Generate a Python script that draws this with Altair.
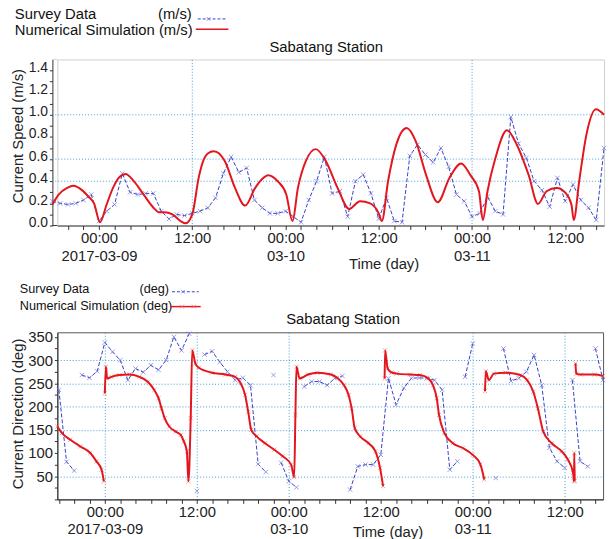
import altair as alt
import pandas as pd

FONT = "Liberation Sans"
RED = "#e3161d"
RED_MARK = "#f07a7a"
BLUE = "#3440c8"
BLUE_MARK = "#6f74d8"
GRID = "#3f9fd3"
DARK = "#333333"

# ---------------- data (hours after 2017-03-09 00:00) ----------------
speed_obs_hours = [-6, -5, -4, -3, -2, -1, 0, 1, 2, 3, 4, 5, 6, 7, 8, 9, 10, 11, 12, 13, 14,
                   15, 16, 17, 18, 19, 20, 21, 22, 23, 24, 25, 26, 27, 28, 29, 30, 31, 32, 33,
                   34, 35, 36, 37, 38, 39, 40, 41, 42, 43, 44, 45, 46, 47, 48, 49, 50, 51, 52,
                   53, 54, 55, 56, 57, 58, 59, 60, 61, 62, 63, 64, 65]
speed_obs = [0.22, 0.20, 0.19, 0.20, 0.23, 0.28, 0.04, 0.13, 0.19, 0.47, 0.30, 0.28, 0.29,
             0.29, 0.13, 0.06, 0.10, 0.09, 0.11, 0.13, 0.16, 0.25, 0.47, 0.62, 0.48, 0.52,
             0.23, 0.16, 0.11, 0.11, 0.13, 0.08, 0.03, 0.23, 0.40, 0.62, 0.29, 0.31, 0.08,
             0.40, 0.46, 0.29, 0.06, 0.25, 0.04, 0.03, 0.63, 0.73, 0.64, 0.57, 0.70, 0.53,
             0.28, 0.22, 0.08, 0.11, 0.26, 0.13, 0.10, 0.98, 0.74, 0.61, 0.40, 0.32, 0.17,
             0.43, 0.22, 0.37, 0.23, 0.16, 0.05, 0.70]

speed_sim_hours = [-6.0, -5.2, -4.1, -3.3, -2.2, -1.35, -0.64, 0.13, 0.98, 1.8, 2.67, 3.43,
                   4.37, 5.64, 6.9, 7.76, 8.4, 9.45, 10.5, 11.15, 12.0, 12.85, 13.5, 14.0,
                   14.76, 16.2, 17.5, 18.8, 20.1, 21.0, 21.76, 23.0, 24.1, 24.9, 25.6, 26.6,
                   27.9, 29.2, 30.7, 32.2, 33.6, 34.9, 36.0, 36.4, 37.2, 38.3, 39.6, 40.8,
                   42.1, 43.6, 45.1, 46.6, 47.8, 48.9, 49.4, 50.0, 51.0, 52.5, 53.8, 55.3,
                   56.5, 57.6, 58.9, 60.1, 60.8, 61.1, 61.8, 62.7, 63.95, 65.0]
speed_sim = [0.19, 0.28, 0.34, 0.36, 0.32, 0.26, 0.20, 0.03, 0.19, 0.34, 0.44, 0.465, 0.41,
             0.29, 0.17, 0.12, 0.12, 0.10, 0.04, 0.02, 0.10, 0.44, 0.60, 0.65, 0.67, 0.58,
             0.34, 0.18, 0.34, 0.42, 0.455, 0.40, 0.28, 0.04, 0.34, 0.58, 0.69, 0.58, 0.34,
             0.15, 0.22, 0.20, 0.11, 0.04, 0.40, 0.74, 0.88, 0.755, 0.455, 0.21, 0.43, 0.56,
             0.455, 0.31, 0.05, 0.31, 0.605, 0.86, 0.725, 0.455, 0.195, 0.31, 0.34, 0.29,
             0.19, 0.05, 0.40, 0.81, 1.05, 1.00]

dir_obs_hours = speed_obs_hours
dir_obs = [236, 81, 62, 268, 262, 276, 338, 318, 300, 257, 282, 274, 289, 279, 300, 350,
           321, 357, 18, 312, 319, 296, 275, 257, 262, 246, 76, 59, 268, 79, 39, 26, 243,
           254, 254, 246, 261, 266, 21, 71, 75, 75, 96, 261, 204, 240, 261, 262, 261, 257,
           236, 64, 82, 264, 336, None, None, 46, 325, 255, 261, 275, 311, 246, 111, 82, 68,
           257, 82, 71, 325, 257]

dir_sim_hours = [-6.2, -5.6, -4.5, -3.2, -1.9, -1.1, -0.43, -0.13,
                 0.0, 0.13, 0.3, 0.86, 1.9, 3.2, 4.5, 5.6, 6.45, 7.0, 7.4, 7.8, 8.4, 9.25,
                 9.9, 10.3, 10.7, 10.9, 11.2, 11.4, 11.8, 12.26, 13.97, 15.7, 17.0, 17.6,
                 18.3, 18.7, 19.1, 19.8, 20.9, 22.1, 23.2, 24.3, 24.7, 24.86, 25.0, 25.4,
                 26.5, 27.7, 29.5, 30.3, 31.2, 31.8, 32.2, 32.6, 33.3, 34.4, 35.3, 35.9, 36.3,
                 36.5, 36.56, 36.9, 37.4, 38.06, 39.8, 41.1, 42.2, 42.8, 43.3, 43.6, 44.3,
                 45.4, 46.7, 48.0, 49.0, 49.5,
                 49.6, 49.7, 50.1, 50.75, 52.3, 54.2, 55.1, 55.9, 56.5, 57.2, 58.3, 59.6,
                 60.4, 61.1, 61.2, 61.25, 61.3,
                 61.4, 61.5, 62.1, 63.9, 65.0]
dir_sim = [157, 143, 128.6, 114, 100, 82, 64, 39,
           228.6, 285.7, 260.7, 264, 268, 269, 264, 253.6, 235.7, 218, 196, 175, 157, 146,
           139, 125, 103.6, 39, 175, 321, 293, 283.6, 273, 269, 264, 253.6,
           225, 189, 150, 135.7, 121, 107, 93, 75, 48, 182, 285.7, 260.7,
           269, 273, 269, 262, 246, 225, 196, 153.6, 135.7, 121, 103.6, 68, 28.6,
           260.7, 321, 282, 273.6, 271, 269, 268, 260.7, 246, 218, 182, 143,
           121, 110.7, 96, 75, 43,
           233.6, 276, 257, 271, 273, 268, 257, 232, 196, 146, 121, 103.6,
           86, 57, 39, 100, 40,
           293, 271, 269, 269, 266]

# axis ticks / labels
x_tick_values = [-6, -4, -2, 0, 2, 4, 6, 8, 10, 12, 14, 16, 18, 20, 22, 24, 26, 28, 30, 32,
                 34, 36, 38, 40, 42, 44, 46, 48, 50, 52, 54, 56, 58, 60, 62, 64]
x_label_hours = [0, 12, 24, 36, 48, 60]
x_label_lines = [["00:00", "2017-03-09"], ["12:00"], ["00:00", "03-10"], ["12:00"],
                 ["00:00", "03-11"], ["12:00"]]
speed_tick_values = [0.0, 0.1, 0.2, 0.3, 0.4, 0.5, 0.6, 0.7, 0.8, 0.9, 1.0, 1.1, 1.2, 1.3, 1.4]
dir_tick_values = [0, 25, 50, 75, 100, 125, 150, 175, 200, 225, 250, 275, 300, 325, 350]
speed_grid_values = [0.4, 0.6, 1.0]
dir_grid_values = [50, 150, 200, 250, 300]
speed_vgrid_hours = [12, 48]
dir_vgrid_hours = [0, 12, 24, 48, 60]

station = "Sabatang Station"
obs_name = "Survey Data"
sim_name = "Numerical Simulation"

XPATH = "M-1,-1L1,1M-1,1L1,-1"

# plot geometry (px)
TOP_W, TOP_H, TOP_AXIS_SHIFT = 553, 168, 5
BOT_W, BOT_H = 552, 169


def segments(hours, values):
    rows = []
    seg = 0
    prev = None
    for h, v in zip(hours, values):
        if v is None:
            prev = None
            seg += 1
            continue
        if prev is not None and abs(v - prev) > 180:
            seg += 1
        rows.append({"hour": h, "value": v, "seg": seg})
        prev = v
    return pd.DataFrame(rows)


def x_label_expr():
    parts = []
    for h, lines in zip(x_label_hours, x_label_lines):
        arr = "[" + ",".join("'%s'" % s for s in lines) + "]"
        parts.append("datum.value == %s ? %s : " % (h, arr))
    return "".join(parts) + "''"


def grid_test(vals):
    return " || ".join("abs(datum.value - %s) < 0.001" % v for v in vals)


def x_enc(domain, vgrid, title_x, title_y):
    return alt.X(
        "hour:Q",
        scale=alt.Scale(domain=domain, nice=False, zero=False),
        axis=alt.Axis(
            values=x_tick_values, labelExpr=x_label_expr(), title="Time (day)",
            titleX=title_x, titleY=title_y, titleFontSize=15, titleFontWeight="normal",
            titleColor="#222", titleBaseline="top",
            labelFontSize=15, labelLineHeight=18, labelColor="#222", labelPadding=1,
            labelOverlap=False, labelFlush=False, tickSize=4, tickColor=DARK,
            domainColor=DARK, grid=True, gridColor=GRID, gridDash=[1, 2],
            gridOpacity={"condition": {"test": grid_test(vgrid), "value": 1}, "value": 0},
        ),
    )


def legend_layers(unit, size, x_text, x_unit_right, y1, y2, sym_x1, sym_x2, sym_y1, sym_y2,
                  sim_marks):
    one = pd.DataFrame({"k": [0]})
    layers = []
    for txt, xx, yy, al in [(obs_name, x_text, y1, "left"), (unit, x_unit_right, y1, "right"),
                            (sim_name + " " + unit, x_text, y2, "left")]:
        layers.append(
            alt.Chart(pd.DataFrame({"t": [txt]})).mark_text(
                align=al, baseline="alphabetic", fontSize=size, color="#111")
            .encode(x=alt.value(xx), y=alt.value(yy), text="t:N"))
    layers.append(alt.Chart(one).mark_rule(color=BLUE, strokeDash=[3, 2], strokeWidth=1)
                  .encode(x=alt.value(sym_x1), x2=alt.value(sym_x2), y=alt.value(sym_y1)))
    layers.append(alt.Chart(one).mark_point(shape=XPATH, filled=False, size=14, color=BLUE_MARK,
                                            strokeWidth=1)
                  .encode(x=alt.value(sym_x1 + 11), y=alt.value(sym_y1)))
    layers.append(alt.Chart(one).mark_rule(color=RED, strokeWidth=1.5)
                  .encode(x=alt.value(sym_x1 - 2), x2=alt.value(sym_x2 + 2), y=alt.value(sym_y2)))
    if sim_marks:
        for dx in (10, 22):
            layers.append(alt.Chart(one).mark_point(shape=XPATH, filled=False, size=16,
                                                    color=RED_MARK, strokeWidth=1)
                          .encode(x=alt.value(sym_x1 + dx), y=alt.value(sym_y2)))
    return layers


def title_layer(cx, by):
    return (alt.Chart(pd.DataFrame({"t": [station]}))
            .mark_text(align="center", baseline="alphabetic", fontSize=15, color="#111")
            .encode(x=alt.value(cx), y=alt.value(by), text="t:N"))


# ---------------- top panel: speed ----------------
sp_obs = pd.DataFrame({"hour": speed_obs_hours, "value": speed_obs})
sp_sim = pd.DataFrame({"hour": speed_sim_hours, "value": speed_sim})
sp_grid = pd.DataFrame({"value": speed_grid_values})
one_row = pd.DataFrame({"k": [0]})

xs = x_enc([-5.364, 65], speed_vgrid_hours, 330, 31)
ys = alt.Y(
    "value:Q", scale=alt.Scale(domain=[0, 1.5], nice=False),
    axis=alt.Axis(
        values=speed_tick_values, offset=TOP_AXIS_SHIFT,
        labelExpr="round(datum.value * 10) % 2 == 0 ? format(datum.value, '.1f') : ''",
        title="Current Speed (m/s)", titleX=-27, titleY=77, titleBaseline="bottom",
        titleFontSize=15, titleFontWeight="normal", titleColor="#222",
        labelFontSize=14, labelColor="#222", labelPadding=2, labelOffset=-3, tickSize=3,
        tickColor=DARK, domainColor=DARK, grid=False,
    ),
)

top_layers = [
    alt.Chart(sp_grid).mark_rule(color=GRID, strokeDash=[1, 2], strokeWidth=1)
    .encode(y=ys, x=alt.value(-TOP_AXIS_SHIFT), x2=alt.value(TOP_W)),
    alt.Chart(one_row).mark_rule(color="#d0d0d0", strokeWidth=1)
    .encode(x=alt.value(-TOP_AXIS_SHIFT), x2=alt.value(0), y=alt.value(0)),
    alt.Chart(one_row).mark_rule(color=DARK, strokeWidth=1)
    .encode(x=alt.value(-TOP_AXIS_SHIFT), x2=alt.value(0), y=alt.value(TOP_H)),
    alt.Chart(sp_obs).mark_line(color=BLUE, strokeDash=[4, 2], strokeWidth=1).encode(x=xs, y=ys),
    alt.Chart(sp_obs).mark_point(shape=XPATH, filled=False, size=20, color=BLUE_MARK,
                                 strokeWidth=1).encode(x=xs, y=ys),
    alt.Chart(sp_sim).mark_line(color=RED, strokeWidth=2, interpolate="monotone").encode(x=xs, y=ys),
    title_layer(272, -7.5),
] + legend_layers("(m/s)", 15, -43, 136, -40.5, -24.5, 142, 171, -41, -30.5, False)

top = alt.layer(*top_layers).properties(
    width=TOP_W, height=TOP_H, view=alt.ViewBackground(stroke="#d0d0d0"))

# ---------------- bottom panel: direction ----------------
dr_obs = segments(dir_obs_hours, dir_obs)
dr_sim = segments(dir_sim_hours, dir_sim)

xd = x_enc([-6.2, 65], dir_vgrid_hours, 334, 26)
yd = alt.Y(
    "value:Q", scale=alt.Scale(domain=[0, 360], nice=False),
    axis=alt.Axis(
        values=dir_tick_values,
        labelExpr="datum.value % 50 == 0 && datum.value > 0 ? datum.label : ''",
        title="Current Direction (deg)", titleX=-32, titleY=82, titleBaseline="bottom",
        titleFontSize=15, titleFontWeight="normal", titleColor="#222",
        labelFontSize=15, labelColor="#222", labelPadding=2, tickSize=3,
        tickColor=DARK, domainColor=DARK, grid=True, gridColor=GRID, gridDash=[1, 2],
        gridOpacity={"condition": {"test": grid_test(dir_grid_values), "value": 1}, "value": 0},
    ),
)

bottom_layers = [
    alt.Chart(dr_obs).mark_line(color=BLUE, strokeDash=[4, 2], strokeWidth=1)
    .encode(x=xd, y=yd, detail="seg:N"),
    alt.Chart(dr_obs).mark_point(shape=XPATH, filled=False, size=20, color=BLUE_MARK,
                                 strokeWidth=1).encode(x=xd, y=yd),
    alt.Chart(dr_sim).mark_point(shape=XPATH, filled=False, size=18, color=RED_MARK,
                                 strokeWidth=1, opacity=0.7).encode(x=xd, y=yd),
    alt.Chart(dr_sim).mark_line(color=RED, strokeWidth=2, interpolate="monotone")
    .encode(x=xd, y=yd, detail="seg:N"),
    title_layer(289, -8.5),
] + legend_layers("(deg)", 12.8, -38, 113, -40, -23, 116, 143, -41, -26, True)

bottom = alt.layer(*bottom_layers).properties(
    width=BOT_W, height=BOT_H, view=alt.ViewBackground(stroke="#555555"))

chart = (
    alt.vconcat(top, bottom, spacing=10)
    .properties(padding={"left": 10, "top": 4, "right": 0, "bottom": 0}, background="white")
    .configure(font=FONT)
    .configure_view(stroke=None)
)

chart.save("out.html", embed_options={"renderer": "svg", "actions": False})
